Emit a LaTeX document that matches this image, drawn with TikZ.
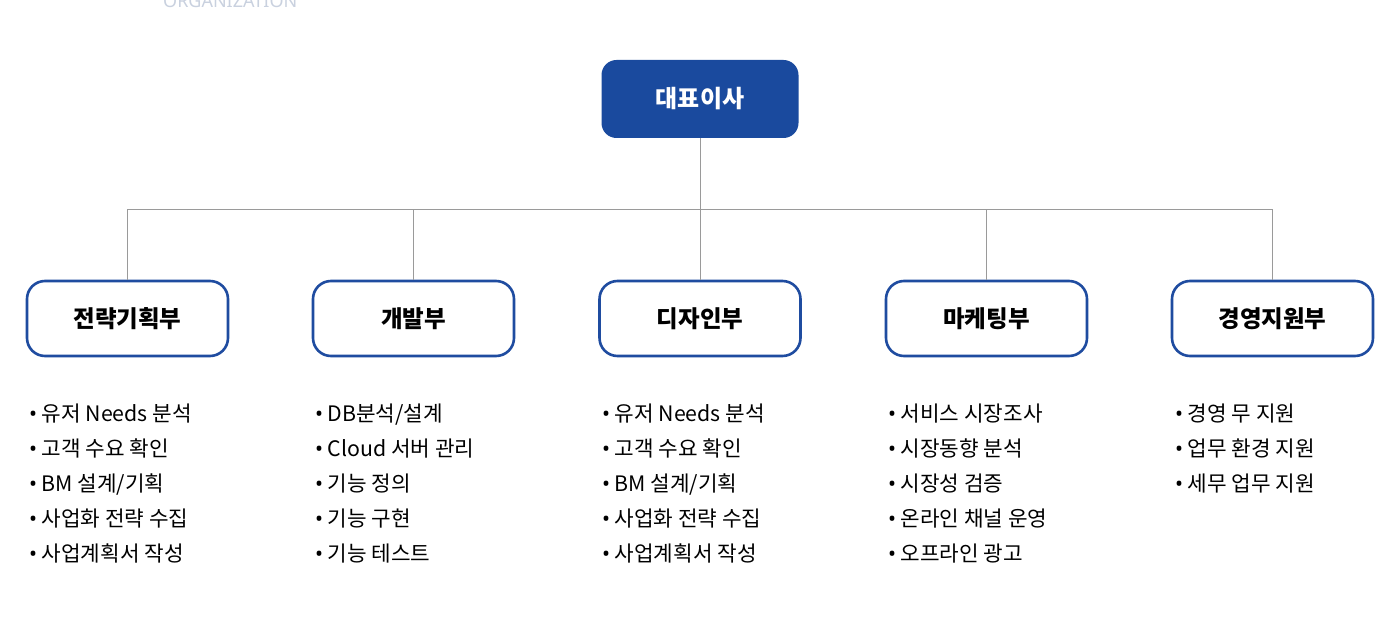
\documentclass[tikz,border=0pt]{standalone}
\usepackage{fontspec}
\setmainfont{Noto Sans CJK KR}
\newfontfamily\latinsans{Noto Sans}
\definecolor{ceoblue}{HTML}{1A4A9E}
\definecolor{deptblue}{HTML}{1F4CA0}
\definecolor{linegray}{HTML}{9A9A9A}
\definecolor{titlegray}{HTML}{C9D1DF}
\tikzset{
  ceobox/.style={draw=none, fill=ceoblue, rounded corners=15pt, minimum width=197pt, minimum height=78pt, inner sep=0pt, text=white, font=\fontsize{24}{28}\selectfont\bfseries},
  deptbox/.style={draw=deptblue, line width=2.6pt, fill=white, rounded corners=18pt, minimum width=201pt, minimum height=75pt, inner sep=0pt, text=black, font=\fontsize{23.5}{28}\selectfont\bfseries},
  conn/.style={draw=linegray, line width=1pt},
  item/.style={inner sep=0pt, anchor=base west, font=\fontsize{21.3}{26}\selectfont, text=black},
  titletext/.style={inner sep=0pt, anchor=base west, font=\latinsans\fontsize{18}{20}\selectfont, text=titlegray}
}
\newcommand\mkdeptlist[3]{%
  \foreach \t [count=\i] in {#3} {
    \node[item] (#2-\i) at ({#1},{421+35*(\i-1)}) {{\latinsans\bfseries •}\hspace{4.5pt}\t};
  }%
}
\begin{document}
\begin{tikzpicture}[x=1pt,y=-1pt]
\useasboundingbox (0,0) rectangle (1392,636);
\clip (0,0) rectangle (1392,636);
\fill[white] (0,0) rectangle (1392,636);

\node[titletext] (title) at (163,8) {ORGANIZATION};

\node[ceobox] (ceo) at (700,99) {대표이사};

\node[deptbox] (d1) at (127.5,318.5) {전략기획부};
\node[deptbox] (d2) at (413.5,318.5) {개발부};
\node[deptbox] (d3) at (700,318.5) {디자인부};
\node[deptbox] (d4) at (986.5,318.5) {마케팅부};
\node[deptbox] (d5) at (1272.5,318.5) {경영지원부};

\coordinate (j) at (700,209.5);
\coordinate (jl) at (127.5,209.5);
\coordinate (jr) at (1272.5,209.5);
\draw[conn] (ceo.south) -- (j);
\draw[conn] (jl) -- (jr);
\draw[conn] (jl) -- (d1.north);
\draw[conn] (j -| d2.north) -- (d2.north);
\draw[conn] (j) -- (d3.north);
\draw[conn] (j -| d4.north) -- (d4.north);
\draw[conn] (jr) -- (d5.north);

\mkdeptlist{29}{a}{유저 Needs 분석,고객 수요 확인,BM 설계/기획,사업화 전략 수집,사업계획서 작성}
\mkdeptlist{315}{b}{DB분석/설계,Cloud 서버 관리,기능 정의,기능 구현,기능 테스트}
\mkdeptlist{602}{c}{유저 Needs 분석,고객 수요 확인,BM 설계/기획,사업화 전략 수집,사업계획서 작성}
\mkdeptlist{888}{d}{서비스 시장조사,시장동향 분석,시장성 검증,온라인 채널 운영,오프라인 광고}
\mkdeptlist{1175}{e}{경영 무 지원,업무 환경 지원,세무 업무 지원}
\end{tikzpicture}
\end{document}
